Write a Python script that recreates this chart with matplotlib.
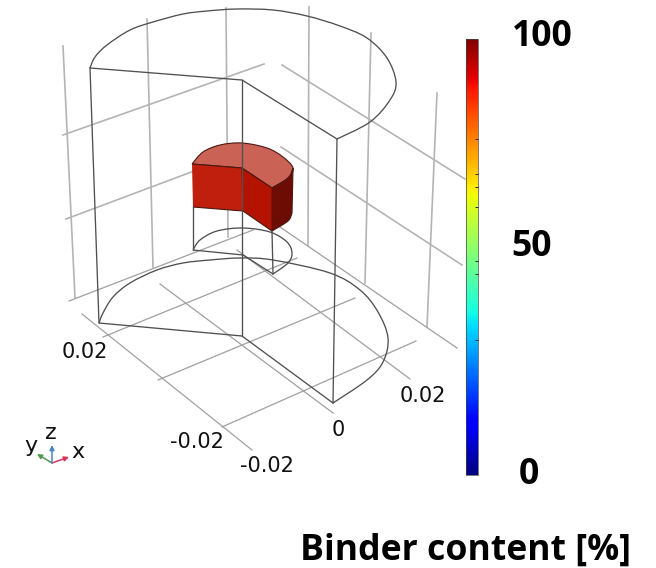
import numpy as np
import matplotlib
matplotlib.use("Agg")
import matplotlib.pyplot as plt
from matplotlib.cm import ScalarMappable
from matplotlib.colors import Normalize
from matplotlib.patches import PathPatch
from matplotlib.path import Path

# ---- wireframe geometry (picture coordinates) ----
grid_upper = [
    [(63, 135), (264, 64)], [(66, 219), (258, 147)],
    [(282, 65), (465, 179)], [(281, 147), (462, 265)],
    [(63, 46), (75, 298)], [(147, 19), (153, 267)], [(226, 8), (228, 237)],
    [(309, 7), (308, 245)], [(371, 33), (365, 283)], [(437, 93), (427, 327)],
]
grid_floor = [
    [(69, 301), (253, 230)], [(277, 225), (457, 348)],
    [(82, 314), (252, 450)], [(160, 284), (333, 413)], [(237, 250), (410, 379)],
    [(103, 337), (297, 258)], [(158, 380), (355, 298)], [(222, 427), (416, 341)],
]
outer_top_arc = [(90, 68), (95, 57), (107, 45), (130, 30), (153, 22), (183, 14), (207, 11),
                 (237, 9), (273, 10), (307, 16), (340, 26), (367, 38), (387, 58), (396, 82),
                 (390, 100), (370, 122), (337, 139)]
outer_top_chord = [(337, 139), (242, 80), (90, 68)]
outer_bottom_arc = [(99, 323), (103, 313), (113, 297), (130, 283), (157, 270), (183, 263),
                    (210, 260), (240, 258), (273, 260), (330, 273), (360, 290), (378, 312),
                    (388, 338), (383, 362), (367, 380), (333, 403)]
outer_bottom_chord = [(333, 403), (242, 336), (99, 323)]
outer_edges = [[(90, 68), (99, 323)], [(337, 139), (333, 403)]]
center_edge = [(242, 80), (242, 336)]
inner_bottom_arc = [(193, 250), (200, 240), (217, 231), (243, 228), (270, 232), (287, 242),
                    (292, 253), (288, 263), (273, 274)]
inner_bottom_chord = [(273, 274), (243, 255), (193, 250)]
inner_edges = [[(193, 250), (193, 207)], [(273, 274), (272, 231)]]

# ---- binder block faces ----
top_arc = [(192, 164), (203, 152), (220, 145), (242, 143), (267, 148), (283, 157),
           (293, 168), (288, 178), (272, 188)]
top_chord = [(272, 188), (242, 168), (192, 164)]
face_left = [(192, 164), (242, 168), (243, 211), (193, 207)]
face_mid = [(242, 168), (272, 188), (272, 231), (243, 211)]
curved_upper = [(272, 188), (288, 178), (293, 168)]
curved_lower = [(292, 213), (288, 221), (272, 231)]

# ---- colour scale ----
scale_min, scale_max = 0, 100
scale_marks = [31, 46, 49, 61.5, 66, 69, 77]
scale_labels = ["100", "50", "0"]
scale_title = "Binder content [%]"

# ---- axis labels ----
tick_labels = ["0.02", "-0.02", "-0.02", "0", "0.02"]
tick_x = [85, 197, 267, 338, 423]
tick_y = [352.5, 442.5, 466.5, 429.5, 395.5]

GREY_UP = "#b4b4b4"
GREY_LOW = "#a0a0a0"
WIRE = "#505050"


def smooth(pts):
    """Bezier path running through the read-off points of a curved edge."""
    p = np.array(pts, float)
    ext = np.vstack([p[0], p, p[-1]])
    verts, codes = [tuple(p[0])], [Path.MOVETO]
    for i in range(1, len(ext) - 2):
        c1 = ext[i] + (ext[i + 1] - ext[i - 1]) / 6
        c2 = ext[i + 1] - (ext[i + 2] - ext[i]) / 6
        verts += [tuple(c1), tuple(c2), tuple(ext[i + 1])]
        codes += [Path.CURVE4] * 3
    return verts, codes


def outline(*parts):
    """Closed path from curved (list, True) and straight (list, False) parts."""
    verts, codes = [], []
    for pts, curved in parts:
        if curved:
            v, c = smooth(pts)
        else:
            v, c = [tuple(q) for q in pts], [Path.MOVETO] + [Path.LINETO] * (len(pts) - 1)
        if verts:
            c = list(c)
            c[0] = Path.LINETO
        verts += v
        codes += c
    return Path(verts, codes)


fig = plt.figure(figsize=(6.56, 5.68), dpi=100)
ax = fig.add_axes([0, 0, 1, 1])
ax.set_xlim(0, 656)
ax.set_ylim(568, 0)
ax.axis("off")

for seg in grid_upper:
    xs, ys = zip(*seg)
    ax.plot(xs, ys, color=GREY_UP, lw=1.2, zorder=1)
for seg in grid_floor:
    xs, ys = zip(*seg)
    ax.plot(xs, ys, color=GREY_LOW, lw=0.9, zorder=1)

for arc, chord in [(outer_top_arc, outer_top_chord), (outer_bottom_arc, outer_bottom_chord),
                   (inner_bottom_arc, inner_bottom_chord)]:
    ax.add_patch(PathPatch(outline((arc, True), (chord, False)), fill=False,
                           edgecolor=WIRE, lw=0.95, zorder=2))
for seg in outer_edges + inner_edges:
    xs, ys = zip(*seg)
    ax.plot(xs, ys, color=WIRE, lw=0.95, zorder=2)

faces = [
    (outline((top_arc, True), (top_chord, False)), "#cb6256"),
    (outline((face_left, False)), "#c11f0d"),
    (outline((face_mid, False)), "#b31300"),
    (outline((curved_upper, True), (curved_lower, True)), "#6d0c02"),
]
for path, col in faces:
    ax.add_patch(PathPatch(path, facecolor=col, edgecolor="#4a1810", lw=0.8, zorder=3))

xs, ys = zip(*center_edge)
ax.plot(xs, ys, color=WIRE, lw=0.95, zorder=4)

# axis labels
for t, x, y in zip(tick_labels, tick_x, tick_y):
    ax.text(x, y, t, ha="center", va="center", fontsize=15, color="#111111",
            family="DejaVu Sans", zorder=5)

# triad
origin = (52, 463)
arrows = [((69, 457), "#d8365e"), ((37, 454), "#4f9a55"), ((52, 445), "#4a86c0")]
for tip, col in arrows:
    ax.annotate("", xy=tip, xytext=origin,
                arrowprops=dict(arrowstyle="-|>,head_length=0.28,head_width=0.14",
                                color=col, lw=1.1, shrinkA=0, shrinkB=0), zorder=5)
for t, x, y in [("x", 78, 452), ("y", 31, 446), ("z", 51, 433)]:
    ax.text(x, y, t, ha="center", va="center", fontsize=16, color="#111111",
            family="DejaVu Sans", zorder=5)

# colour bar
cax = fig.add_axes([466 / 656, 1 - 475 / 568, 12 / 656, 436 / 568])
cb = fig.colorbar(ScalarMappable(Normalize(scale_min, scale_max), cmap="jet"), cax=cax)
cb.set_ticks(scale_marks)
cb.ax.tick_params(length=2, width=0.7, direction="in", labelright=False, color="#222222")
cb.outline.set_linewidth(0.5)
cb.outline.set_edgecolor("#444444")

bold = dict(fontsize=25.7, fontweight="bold", family="Open Sans", color="black")
ax.text(542.5, 37.5, scale_labels[0], ha="center", va="center", **bold)
ax.text(532, 247.5, scale_labels[1], ha="center", va="center", **bold)
ax.text(528.5, 474.5, scale_labels[2], ha="center", va="center", **bold)
ax.text(465.5, 550.5, scale_title, ha="center", va="center", **bold)

fig.savefig("out.png", dpi=100)
